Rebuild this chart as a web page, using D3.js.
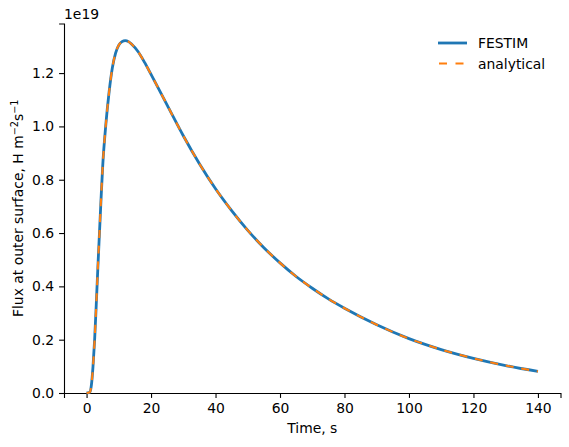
<!DOCTYPE html>
<html>
<head>
<meta charset="utf-8">
<script src="https://cdn.jsdelivr.net/npm/d3@7"></script>
<style>
  body { margin: 0; background: #fff; }
  svg text { font-family: "DejaVu Sans", sans-serif; fill: #000; }
</style>
</head>
<body>
<svg id="chart" width="569" height="447"></svg>
<script>
// time in seconds
const times = [0, 1, 1.5, 2, 2.5, 3, 3.5, 4, 4.5, 5, 6, 7, 8, 9, 10, 11, 12, 13, 14, 16, 18, 20,
  25, 30, 35, 40, 45, 50, 55, 60, 65, 70, 75, 80, 90, 100, 110, 120, 130, 140];
// flux, units of 1e19 H m^-2 s^-1
const festimFlux = [0, 0.003, 0.03, 0.1, 0.2, 0.33, 0.47, 0.6, 0.73, 0.85, 1.01, 1.13, 1.22, 1.275,
  1.305, 1.318, 1.322, 1.318, 1.308, 1.28, 1.24, 1.195, 1.08, 0.965, 0.86, 0.766, 0.684, 0.61,
  0.545, 0.488, 0.437, 0.393, 0.353, 0.318, 0.256, 0.204, 0.163, 0.13, 0.103, 0.081];
const analyticalFlux = festimFlux.slice();
const xTicks = [0, 20, 40, 60, 80, 100, 120, 140];
const yTicks = [0, 0.2, 0.4, 0.6, 0.8, 1.0, 1.2];
const seriesNames = ['FESTIM', 'analytical'];

const svg = d3.select('#chart');
const fs = 13.9;
const dash = '8,7.8';

const x = d3.scaleLinear().domain([-7, 147]).range([64, 560.5]);
const y = d3.scaleLinear().domain([0, 1.386]).range([393, 23.5]);

// axes
const xAxis = svg.append('g')
  .attr('transform', `translate(0,${y(0)})`)
  .call(d3.axisBottom(x).tickValues(xTicks).tickSize(4.9).tickPadding(4.9).tickFormat(d3.format('d')));
const yAxis = svg.append('g')
  .attr('transform', `translate(${x(-7)},0)`)
  .call(d3.axisLeft(y).tickValues(yTicks).tickSize(4.9).tickPadding(4.9).tickFormat(d3.format('.1f')));

[xAxis, yAxis].forEach(g => {
  g.selectAll('path').attr('stroke', '#000').attr('stroke-width', 1.1);
  g.selectAll('line').attr('stroke', '#000').attr('stroke-width', 1.1);
  g.selectAll('text').style('font-size', fs + 'px').attr('fill', '#000');
});

// offset text
svg.append('text')
  .attr('x', 64)
  .attr('y', 19)
  .style('font-size', fs + 'px')
  .text('1e19');

// axis labels
svg.append('text')
  .attr('x', (x(-7) + x(147)) / 2)
  .attr('y', 433)
  .attr('text-anchor', 'middle')
  .style('font-size', fs + 'px')
  .text('Time, s');

const ylab = svg.append('text')
  .attr('transform', `translate(23,${(y(0) + y(1.386)) / 2}) rotate(-90)`)
  .attr('text-anchor', 'middle')
  .style('font-size', fs + 'px');
ylab.append('tspan').text('Flux at outer surface, H m');
ylab.append('tspan').attr('dy', -5.5).style('font-size', '9.7px').text('\u22122');
ylab.append('tspan').attr('dy', 5.5).text('s');
ylab.append('tspan').attr('dy', -5.5).style('font-size', '9.7px').text('\u22121');

// lines
const line = d3.line()
  .x((d, i) => x(times[i]))
  .y(d => y(d))
  .curve(d3.curveMonotoneX);

svg.append('path')
  .datum(festimFlux)
  .attr('d', line)
  .attr('fill', 'none')
  .attr('stroke', '#1f77b4')
  .attr('stroke-width', 2.8);

svg.append('path')
  .datum(analyticalFlux)
  .attr('d', line)
  .attr('fill', 'none')
  .attr('stroke', '#ff7f0e')
  .attr('stroke-width', 2.1)
  .attr('stroke-dasharray', dash);

// legend
const legend = svg.append('g').attr('transform', 'translate(438,43)');
seriesNames.forEach((name, i) => {
  const row = legend.append('g').attr('transform', `translate(0,${i * 20.5})`);
  row.append('line')
    .attr('x1', i === 0 ? 0 : 1).attr('x2', 29)
    .attr('y1', 0).attr('y2', 0)
    .attr('stroke', i === 0 ? '#1f77b4' : '#ff7f0e')
    .attr('stroke-width', i === 0 ? 2.8 : 2.1)
    .attr('stroke-dasharray', i === 0 ? null : '8,8.5');
  row.append('text')
    .attr('x', 40)
    .attr('y', 5)
    .style('font-size', fs + 'px')
    .text(name);
});
</script>
</body>
</html>
